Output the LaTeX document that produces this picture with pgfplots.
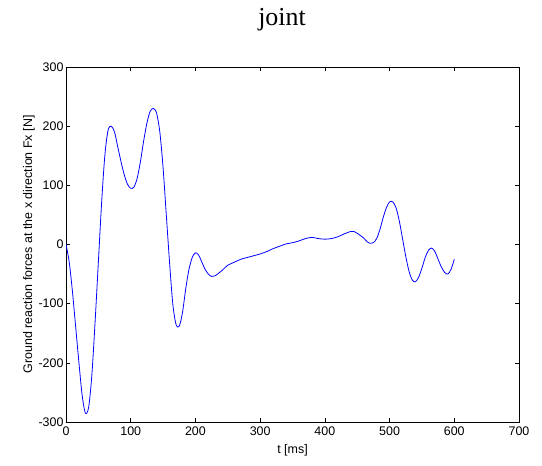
\documentclass[border=0pt]{standalone}
\usepackage{fontspec}
\setmainfont{Liberation Sans}
\newfontfamily\titlefont{Liberation Serif}
\usepackage{pgfplots}
\pgfplotsset{compat=1.18}

\begin{document}
\begin{tikzpicture}
\path[use as bounding box] (0,0) rectangle (542bp,466bp);
\begin{axis}[
  at={(66bp,44bp)}, anchor=south west,
  width=453bp, height=355bp, scale only axis,
  xmin=0, xmax=700, ymin=-300, ymax=300,
  xtick={0,100,...,700}, ytick={-300,-200,...,300},
  tick align=inside,
  major tick length=4bp,
  axis line style={line width=0.8pt},
  every tick/.style={black, line width=0.6pt},
  tick label style={font=\fontsize{12.5}{14}\selectfont},
  xticklabel style={yshift=-1bp},
  yticklabel style={xshift=1bp},
  /pgf/number format/assume math mode=true,
  xlabel={t [ms]},
  ylabel={Ground reaction forces at the x direction Fx [N]},
  label style={font=\fontsize{12.5}{14}\selectfont},
  xlabel style={yshift=-2bp},
  ylabel style={yshift=-3bp},
]
\addplot[blue, line width=0.8pt, smooth, tension=0.5] coordinates {
(0,0) (5,-30) (10,-80) (15,-140) (20,-200) (25,-255) (30,-285) (35,-275)
(40,-220) (45,-130) (50,-30) (55,70) (60,150) (65,193) (70,200) (75,190)
(80,165) (85,140) (90,118) (95,102) (100,95) (105,97) (110,112) (115,140)
(120,175) (125,205) (130,225) (135,230) (140,222) (145,190) (150,130)
(155,50) (160,-30) (165,-100) (170,-135) (175,-138) (180,-115) (185,-75)
(190,-42) (195,-22) (200,-14) (205,-18) (210,-30) (215,-42) (220,-50)
(225,-54) (230,-53) (240,-45) (250,-35) (260,-30) (270,-25) (280,-22)
(290,-19) (300,-16) (310,-12) (320,-7) (330,-3) (340,1) (350,3) (360,6)
(370,10) (380,12) (390,10) (400,9) (410,10) (420,13) (430,18) (440,22)
(445,22) (450,19) (460,11) (465,5) (470,2) (475,3) (480,10) (485,25)
(490,45) (495,62) (500,72) (505,72) (510,62) (515,40) (520,10) (525,-20)
(530,-45) (535,-60) (540,-63) (545,-55) (550,-40) (555,-22) (560,-10)
(565,-6) (570,-12) (575,-25) (580,-38) (585,-47) (590,-50) (595,-42) (600,-25)
};
\end{axis}
\node[font=\titlefont\fontsize{26}{30}\selectfont, anchor=base] at (282bp,440bp) {joint};
\end{tikzpicture}
\end{document}
